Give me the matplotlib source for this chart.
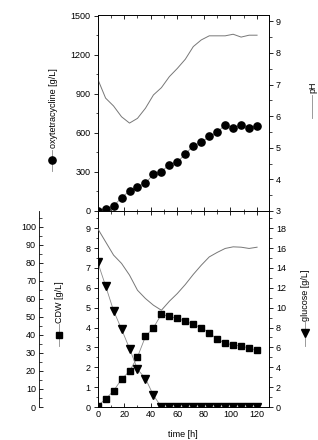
import numpy as np
import matplotlib
matplotlib.use("Agg")
import matplotlib.pyplot as plt
from matplotlib.ticker import MultipleLocator

plt.rcParams['font.family'] = ['Liberation Sans', 'DejaVu Sans']
plt.rcParams['font.size'] = 6.5

# sampling times [h]
time = [0, 6, 12, 18, 24, 30, 36, 42, 48, 54, 60, 66, 72, 78, 84, 90, 96, 102, 108, 114, 120]

# top panel
otc = [0, 15, 38, 103, 154, 188, 213, 283, 303, 357, 377, 437, 503, 527, 573, 604,
       665, 639, 660, 637, 655]
ph = [7.18, 6.57, 6.32, 5.98, 5.78, 5.93, 6.25, 6.67, 6.9, 7.25, 7.51, 7.8, 8.2, 8.41,
      8.54, 8.54, 8.54, 8.59, 8.5, 8.56, 8.56]

# bottom panel
cdw = [0.05, 0.4, 0.81, 1.4, 1.8, 2.52, 3.55, 3.99, 4.67, 4.56, 4.46, 4.32, 4.16, 3.99,
       3.75, 3.4, 3.23, 3.11, 3.08, 2.96, 2.86]
glucose = [14.6, 12.2, 9.7, 7.84, 5.89, 3.8, 2.86, 1.18, 0, 0, 0, 0, 0, 0, 0, 0, 0, 0, 0, 0, 0]
po2 = [99.1, 91.7, 84.3, 79.7, 73.2, 64.8, 60.2, 56.5, 53.7, 58.7, 63, 68, 73.6, 78.7,
       83.3, 85.8, 88, 88.9, 88.7, 88, 88.7]

line_col = '#8a8a8a'
fig = plt.figure(figsize=(3.18, 4.4), dpi=100)

# ---- top panel: oxytetracycline + pH ----
ax1 = fig.add_axes([0.307, 0.5205, 0.539, 0.4455])
ax1.plot(time, otc, color=line_col, lw=0.6, marker='o', ms=5.2, mfc='black', mec='black', zorder=3)
ax1.set_xlim(0, 129)
ax1.set_ylim(0, 1508)
ax1.yaxis.set_major_locator(MultipleLocator(300))
ax1.yaxis.set_minor_locator(MultipleLocator(150))
ax1.xaxis.set_major_locator(MultipleLocator(20))
ax1.xaxis.set_minor_locator(MultipleLocator(10))
ax1.tick_params(axis='x', which='both', top=True, bottom=True, direction='in', labelbottom=False)
ax1.tick_params(axis='y', which='both', direction='out')
ax1.tick_params(which='major', length=3, width=0.6)
ax1.tick_params(which='minor', length=1.8, width=0.5)

ax1r = ax1.twinx()
ax1r.plot(time, ph, color='#777777', lw=0.7)
ax1r.set_ylim(3, 9.2)
ax1r.yaxis.set_major_locator(MultipleLocator(1))
ax1r.yaxis.set_minor_locator(MultipleLocator(0.5))
ax1r.tick_params(which='major', length=3, width=0.6, direction='out')
ax1r.tick_params(which='minor', length=1.8, width=0.5, direction='out')

# ---- bottom panel: CDW, glucose, pO2 ----
ax2 = fig.add_axes([0.307, 0.075, 0.539, 0.4455])
ax2.plot(time, cdw, color=line_col, lw=0.6, marker='s', ms=4.5, mfc='black', mec='black', zorder=3)
ax2.set_xlim(0, 129)
ax2.set_ylim(0, 9.87)
ax2.yaxis.set_major_locator(MultipleLocator(1))
ax2.yaxis.set_minor_locator(MultipleLocator(0.5))
ax2.xaxis.set_major_locator(MultipleLocator(20))
ax2.xaxis.set_minor_locator(MultipleLocator(10))
ax2.tick_params(axis='x', which='both', top=True, direction='in')
ax2.tick_params(axis='y', which='both', direction='out')
ax2.tick_params(which='major', length=3, width=0.6)
ax2.tick_params(which='minor', length=1.8, width=0.5)

ax2r = ax2.twinx()
# glucose markers sitting on zero get clipped by the axis, like in the original
ax2r.plot(time, glucose, color=line_col, lw=0.6, marker='v', ms=5.5, mfc='black', mec='black',
          zorder=3, clip_on=True)
ax2r.set_ylim(0, 19.74)
ax2r.yaxis.set_major_locator(MultipleLocator(2))
ax2r.yaxis.set_minor_locator(MultipleLocator(1))
ax2r.tick_params(which='major', length=3, width=0.6, direction='out')
ax2r.tick_params(which='minor', length=1.8, width=0.5, direction='out')

# offset axis for dissolved oxygen
ax2o = ax2.twinx()
ax2o.spines['left'].set_position(('axes', -0.343))
ax2o.spines['left'].set_visible(True)
ax2o.spines['right'].set_visible(False)
ax2o.spines['top'].set_visible(False)
ax2o.spines['bottom'].set_visible(False)
ax2o.yaxis.set_ticks_position('left')
ax2o.yaxis.set_label_position('left')
ax2o.plot(time, po2, color='#777777', lw=0.7)
ax2o.set_ylim(0, 108.8)
ax2o.yaxis.set_major_locator(MultipleLocator(10))
ax2o.yaxis.set_minor_locator(MultipleLocator(5))
ax2o.tick_params(which='major', length=3, width=0.6, direction='in')
ax2o.tick_params(which='minor', length=1.8, width=0.5, direction='in')

for a in (ax1, ax1r, ax2, ax2r, ax2o):
    for s in a.spines.values():
        s.set_linewidth(0.6)
    a.tick_params(labelsize=6.5, pad=2)

# rotated legend-like labels
W, H = 318.0, 440.0
def fx(px):
    return px / W
def fy(py):
    return 1 - py / H

def key(xp, yp, seg, marker, ms, text, ty):
    fig.add_artist(plt.Line2D([fx(xp), fx(xp)], [fy(seg[0]), fy(seg[1])], color=line_col, lw=0.6,
                              transform=fig.transFigure))
    if marker:
        fig.add_artist(plt.Line2D([fx(xp)], [fy(yp)], marker=marker, ms=ms, color='black',
                                  transform=fig.transFigure))
    fig.text(fx(xp + 1), fy(ty), text, rotation=90, ha='center', va='bottom', fontsize=6.5)

key(52, 160, (150, 171), 'o', 5.2, 'oxytetracycline [g/L]', 148)
key(312, 0, (95, 118), None, 0, 'pH', 93)
key(59, 335, (324, 346), 's', 4.5, 'CDW [g/L]', 323)
key(305, 333, (322, 346), 'v', 5.5, 'glucose [g/L]', 321)
# left-most label is cut by the figure edge in the original
fig.text(-0.012, fy(300), 'pO$_2$ [%]', rotation=90, ha='center', va='center', fontsize=6.5)
fig.text(fx(183), fy(438.5), 'time [h]', ha='center', va='bottom', fontsize=6.5)

fig.savefig('out.png', dpi=100)
